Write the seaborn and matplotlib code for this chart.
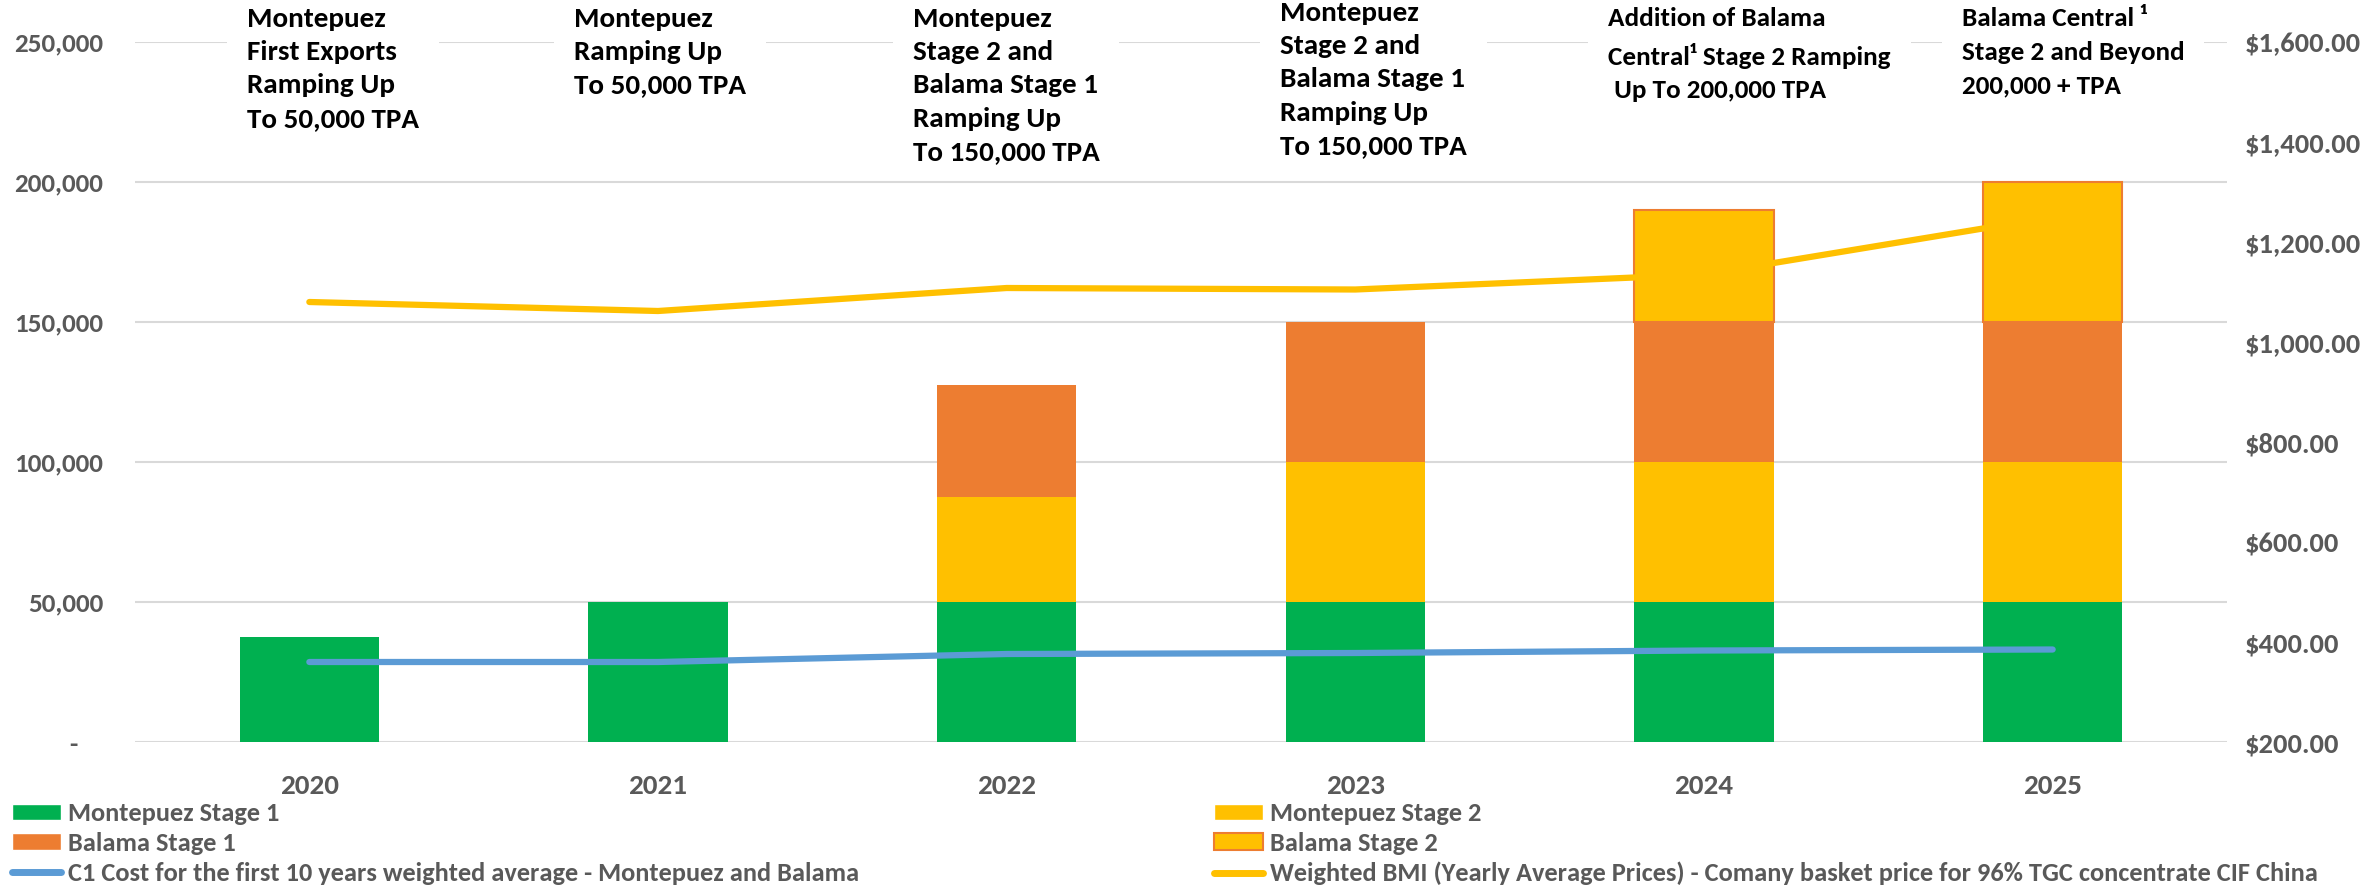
import numpy as np
import pandas as pd
import seaborn as sns
import matplotlib.pyplot as plt
from matplotlib.patches import Patch, Rectangle
from matplotlib.lines import Line2D
from matplotlib.ticker import FuncFormatter, MultipleLocator
from matplotlib.transforms import IdentityTransform, blended_transform_factory

years = ["2020", "2021", "2022", "2023", "2024", "2025"]
montepuez_s1 = [37500, 50000, 50000, 50000, 50000, 50000]
montepuez_s2 = [0, 0, 37500, 50000, 50000, 50000]
balama_s1 = [0, 0, 40000, 50000, 50000, 50000]
balama_s2 = [0, 0, 0, 0, 40000, 50000]
c1_cost = [360, 360, 376, 378, 383, 385]
bmi_price = [1080, 1062, 1108, 1105, 1135, 1250]
notes = [
    "Montepuez\nFirst Exports\nRamping Up\nTo 50,000 TPA",
    "Montepuez\nRamping Up\nTo 50,000 TPA",
    "Montepuez\nStage 2 and\nBalama Stage 1\nRamping Up\nTo 150,000 TPA",
    "Montepuez\nStage 2 and\nBalama Stage 1\nRamping Up\nTo 150,000 TPA",
    "Addition of Balama\nCentral\u00b9 Stage 2 Ramping\n Up To 200,000 TPA",
    "Balama Central \u00b9\nStage 2 and Beyond\n200,000 + TPA",
]
c1_label = "C1 Cost for the first 10 years weighted average - Montepuez and Balama"
bmi_label = ("Weighted BMI (Yearly Average Prices) - Comany basket price "
             "for 96% TGC concentrate CIF China")

GREEN, YELLOW, ORANGE, BLUE = "#00B050", "#FFC000", "#ED7D31", "#5B9BD5"
GREY = "#595959"

# stacked layers: name, values, face, edge
layers = [
    ("Montepuez Stage 1", montepuez_s1, GREEN, "none"),
    ("Montepuez Stage 2", montepuez_s2, YELLOW, "none"),
    ("Balama Stage 1", balama_s1, ORANGE, "none"),
    ("Balama Stage 2", balama_s2, YELLOW, ORANGE),
]
rows = []
base = np.zeros(len(years))
for name, vals, _, _ in layers:
    for yr, b, v in zip(years, base, vals):
        rows.append({"year": yr, "series": name, "value": v, "base": b})
    base = base + np.array(vals)
df = pd.DataFrame(rows)

sns.set_theme(style="white")
plt.rcParams["font.family"] = ["Carlito", "DejaVu Sans"]
plt.rcParams["font.weight"] = "bold"

W, H = 2379, 886
fig = plt.figure(figsize=(W / 100, H / 100), dpi=100)
ax = fig.add_axes([135 / W, 144 / H, 2092 / W, 700 / H])

for name, _, face, edge in layers:
    sub = df[(df["series"] == name) & (df["value"] > 0)]
    sns.barplot(data=sub, x="year", y="value", order=years,
                bottom=sub["base"].to_numpy(), color=face, saturation=1,
                width=0.4, edgecolor=edge, linewidth=1.5 if edge != "none" else 0,
                errorbar=None, zorder=2, ax=ax)

ax.set_xlim(-0.5, len(years) - 0.5)
ax.set_ylim(0, 250000)
ax.yaxis.set_major_locator(MultipleLocator(50000))
ax.yaxis.set_major_formatter(FuncFormatter(lambda v, p: "-    " if v == 0 else f"{v:,.0f}"))
ax.grid(axis="y", color="#D9D9D9", lw=1.5)
ax.set_axisbelow(True)
sns.despine(ax=ax, left=True, bottom=True)
ax.set_xlabel("")
ax.set_ylabel("")
ax.tick_params(axis="x", length=0, pad=23, labelsize=21, labelcolor=GREY)
ax.tick_params(axis="y", length=0, pad=23, labelsize=19.5, labelcolor=GREY)

ax2 = ax.twinx()
x_pos = np.arange(len(years))
sns.lineplot(x=x_pos, y=c1_cost, ax=ax2, color=BLUE, lw=4.5, solid_capstyle="round")
sns.lineplot(x=x_pos, y=bmi_price, ax=ax2, color=YELLOW, lw=4.5, solid_capstyle="round")
ax2.set_ylim(200, 1600)
ax2.yaxis.set_major_locator(MultipleLocator(200))
ax2.yaxis.set_major_formatter(FuncFormatter(lambda v, p: f"${v:,.2f}"))
ax2.grid(False)
sns.despine(ax=ax2, left=True, bottom=True, right=True)
ax2.set_ylabel("")
ax2.tick_params(axis="y", length=0, pad=13, labelsize=20.5, labelcolor=GREY)
ax.set_xlim(-0.5, len(years) - 0.5)

# milestone notes above each year
note_dx = [-0.178, -0.241, -0.27, -0.215, -0.275, -0.261]
note_top = [7, 7, 7, 1, 7, 7]
note_size = [21, 21, 21, 21, 19.5, 19.5]
tr = blended_transform_factory(ax.transData, ax.transAxes)
texts = []
for i, (txt, dx, top, fs) in enumerate(zip(notes, note_dx, note_top, note_size)):
    t = ax.text(i + dx, (742 - top) / 700, txt, transform=tr, ha="left", va="top",
                fontsize=fs, color="black", linespacing=1.46 * 21 / fs, zorder=5, clip_on=False)
    texts.append(t)

fig.canvas.draw()
rend = fig.canvas.get_renderer()
gy = ax.transData.transform((0, 250000))[1]
for t in texts:
    bb = t.get_window_extent(rend)
    ax.add_patch(Rectangle((bb.x0 - 20, gy - 5), bb.width + 40, 10, transform=IdentityTransform(),
                           facecolor="white", edgecolor="none", zorder=1, clip_on=False))

leg_kw = dict(loc="upper left", frameon=False, fontsize=19, handlelength=1.86,
              handleheight=0.57, handletextpad=0.27, labelspacing=0.26,
              borderpad=0, borderaxespad=0, labelcolor=GREY)
h1 = [Patch(facecolor=GREEN), Patch(facecolor=ORANGE),
      Line2D([], [], color=BLUE, lw=5, solid_capstyle="round")]
h2 = [Patch(facecolor=YELLOW), Patch(facecolor=YELLOW, edgecolor=ORANGE, lw=1.5),
      Line2D([], [], color=YELLOW, lw=5, solid_capstyle="round")]
fig.legend(h1, ["Montepuez Stage 1", "Balama Stage 1", c1_label],
           bbox_to_anchor=(12 / W, 1 - 802 / H), **leg_kw)
fig.legend(h2, ["Montepuez Stage 2", "Balama Stage 2", bmi_label],
           bbox_to_anchor=(1214 / W, 1 - 802 / H), **leg_kw)

fig.savefig("out.png", dpi=100)
